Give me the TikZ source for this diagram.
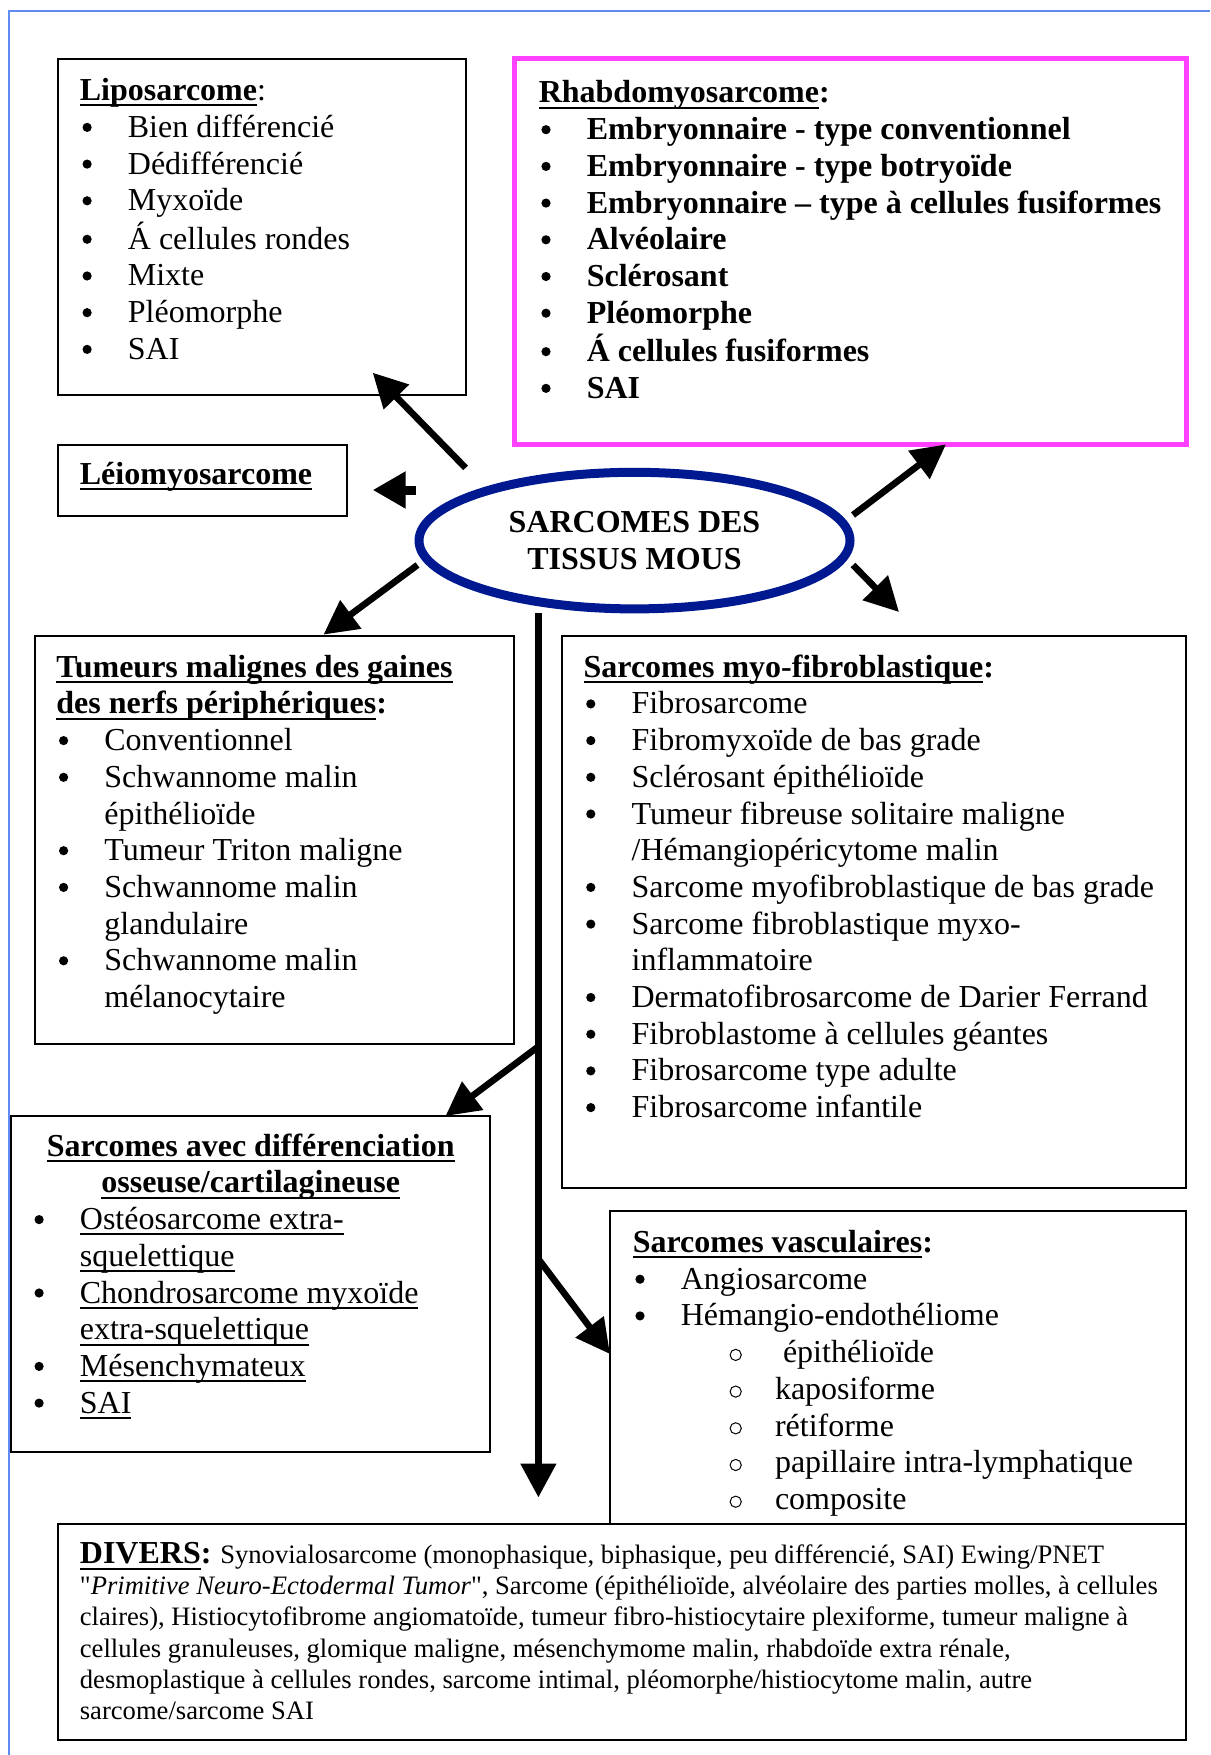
\documentclass[tikz,border=0pt]{standalone}
\usepackage{fontspec}
\setmainfont{Liberation Serif}
\usetikzlibrary{arrows.meta,fit,shapes.geometric}
\definecolor{framecol}{RGB}{95,140,240}
\definecolor{pinkline}{RGB}{255,64,255}
\definecolor{navyline}{RGB}{0,25,145}
\newsavebox\ulbox
\newcommand\ulx[1]{\sbox\ulbox{#1}\rlap{\rule[-2.9pt]{\wd\ulbox}{1pt}}\usebox\ulbox}
\newcommand\bul{\hbox to 24pt{\hskip1.3pt\raisebox{2.7pt}{\tikz\fill (0,0) circle (2.3pt);}\hfil}}
\newcommand\cont{\hskip24pt}
\newcommand\subb{\hbox to 71.1pt{\hskip48.4pt\raisebox{0.8pt}{\tikz\draw[line width=0.5pt] (0,0) circle (2.8pt);}\hfil}}
\begin{document}
\begin{tikzpicture}[x=0.5pt,y=-0.5pt,
  boxn/.style={draw, line width=0.8pt, inner sep=0pt},
  lst/.style={anchor=base west, inner sep=0pt, font=\fontsize{16}{18.35}\selectfont},
  arr/.style={line width=3.3pt, -{Triangle[length=17pt,width=17pt]}},
]
\useasboundingbox (0,0) rectangle (1210,1755);
\draw[framecol, line width=0.8pt] (9,1755) -- (9,11) -- (1210,11);

% boxes
\node[boxn, fit={(58,59) (466,395)}] (lipo) {};
\node[boxn, draw=pinkline, line width=2.5pt, fit={(514,59) (1186,444)}] (rhabdo) {};
\node[boxn, fit={(58,445) (347,516)}] (leio) {};
\node[boxn, fit={(35,636) (514,1044)}] (tmgn) {};
\node[boxn, fit={(562,636) (1186,1188)}] (myo) {};
\node[boxn, fit={(11,1116) (490,1452)}] (diff) {};
\node[boxn, fit={(610,1211) (1186,1524)}] (vasc) {};
\node[boxn, fit={(58,1524) (1186,1740)}] (divers) {};

% central ellipse
\node[ellipse, draw=navyline, line width=4.5pt, minimum width=215.5pt, minimum height=68.3pt,
      inner sep=0pt, align=center, font=\fontsize{16}{18.5}\selectfont\bfseries] (stm) at (634.5,540.6)
      {SARCOMES DES\\TISSUS MOUS};

% texts
\node[lst] (lipoT) at (79.5,100.7) {\begin{tabular}[t]{@{}l@{}}
\textbf{\ulx{Liposarcome}}:\\
\bul Bien différencié\\
\bul Dédifférencié\\
\bul Myxoïde\\
\bul Á cellules rondes\\
\bul Mixte\\
\bul Pléomorphe\\
\bul SAI
\end{tabular}};

\node[lst, font=\fontsize{16}{18.35}\selectfont\bfseries] (rhabdoT) at (538.4,103) {\begin{tabular}[t]{@{}l@{}}
\ulx{Rhabdomyosarcome}:\\
\bul Embryonnaire - type conventionnel\\
\bul Embryonnaire - type botryoïde\\
\bul Embryonnaire – type à cellules fusiformes\\
\bul Alvéolaire\\
\bul Sclérosant\\
\bul Pléomorphe\\
\bul Á cellules fusiformes\\
\bul SAI
\end{tabular}};

\node[lst] (leioT) at (79.5,484.6) {\textbf{\ulx{Léiomyosarcome}}};

\node[lst] (tmgnT) at (56,677.2) {\begin{tabular}[t]{@{}l@{}}
\textbf{\ulx{Tumeurs malignes des gaines}}\\
\textbf{\ulx{des nerfs périphériques}:}\\
\bul Conventionnel\\
\bul Schwannome malin\\
\cont épithélioïde\\
\bul Tumeur Triton maligne\\
\bul Schwannome malin\\
\cont glandulaire\\
\bul Schwannome malin\\
\cont mélanocytaire
\end{tabular}};

\node[lst] (myoT) at (583.2,677.2) {\begin{tabular}[t]{@{}l@{}}
\textbf{\ulx{Sarcomes myo-fibroblastique}:}\\
\bul Fibrosarcome\\
\bul Fibromyxoïde de bas grade\\
\bul Sclérosant épithélioïde\\
\bul Tumeur fibreuse solitaire maligne\\
\cont /Hémangiopéricytome malin\\
\bul Sarcome myofibroblastique de bas grade\\
\bul Sarcome fibroblastique myxo-\\
\cont inflammatoire\\
\bul Dermatofibrosarcome de Darier Ferrand\\
\bul Fibroblastome à cellules géantes\\
\bul Fibrosarcome type adulte\\
\bul Fibrosarcome infantile
\end{tabular}};

\node[anchor=base, inner sep=0pt, font=\fontsize{16}{18.35}\selectfont\bfseries] (diffT) at (250.7,1156.2)
{\begin{tabular}[t]{@{}c@{}}
\ulx{Sarcomes avec différenciation}\\
\ulx{osseuse/cartilagineuse}
\end{tabular}};

\node[lst] (diffI) at (31.5,1229.6) {\begin{tabular}[t]{@{}l@{}}
\bul\ulx{Ostéosarcome extra-}\\
\cont\ulx{squelettique}\\
\bul\ulx{Chondrosarcome myxoïde}\\
\cont\ulx{extra-squelettique}\\
\bul\ulx{Mésenchymateux}\\
\bul\ulx{SAI}
\end{tabular}};

\node[lst] (vascT) at (632.4,1252.5) {\begin{tabular}[t]{@{}l@{}}
\textbf{\ulx{Sarcomes vasculaires}:}\\
\bul Angiosarcome\\
\bul Hémangio-endothéliome\\
\subb\ épithélioïde\\
\subb kaposiforme\\
\subb rétiforme\\
\subb papillaire intra-lymphatique\\
\subb composite
\end{tabular}};

\node[anchor=base west, inner sep=0pt, font=\fontsize{13.3}{15.55}\selectfont] (diversT) at (79.5,1563.7)
{\begin{tabular}[t]{@{}l@{}}
{\fontsize{16}{18}\selectfont\textbf{\ulx{DIVERS}:}} Synovialosarcome (monophasique, biphasique, peu différencié, SAI) Ewing/PNET\\
\textquotedbl\textit{Primitive Neuro-Ectodermal Tumor}\textquotedbl, Sarcome (épithélioïde, alvéolaire des parties molles, à cellules\\
claires), Histiocytofibrome angiomatoïde, tumeur fibro-histiocytaire plexiforme, tumeur maligne à\\
cellules granuleuses, glomique maligne, mésenchymome malin, rhabdoïde extra rénale,\\
desmoplastique à cellules rondes, sarcome intimal, pléomorphe/histiocytome malin, autre\\
sarcome/sarcome SAI
\end{tabular}};

% connector end points
\coordinate (e1) at (465.6,467.9); \coordinate (t1) at (372.7,372.7);
\coordinate (e2) at (416.4,490);   \coordinate (t2) at (372.7,490);
\coordinate (e3) at (853,515);     \coordinate (t3) at (946,444.4);
\coordinate (e4) at (853,565);     \coordinate (t4) at (899,612);
\coordinate (e5) at (417.5,565);   \coordinate (t5) at (323.5,634.6);
\coordinate (e6) at (538.4,613);   \coordinate (t6) at (538.4,1497.6);
\coordinate (b7) at (538.4,1046.5); \coordinate (t7) at (445.5,1116);
\coordinate (b8) at (538.4,1259);  \coordinate (t8) at (610,1354);

\draw[arr] (e1) -- (t1);
\draw[line width=4.5pt, -{Triangle[length=16.5pt,width=17.5pt]}] (e2) -- (t2);
\draw[arr] (e3) -- (t3);
\draw[arr] (e4) -- (t4);
\draw[arr] (e5) -- (t5);
\draw[arr, line width=3.8pt] (e6) -- (t6);
\draw[arr] (b7) -- (t7);
\draw[arr] (b8) -- (t8);
\end{tikzpicture}
\end{document}
